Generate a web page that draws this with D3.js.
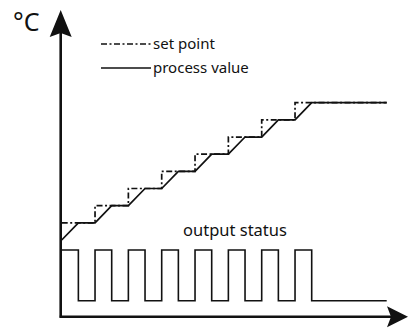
<script src="https://d3js.org/d3.v7.min.js"></script>
<style>
  body { margin: 0; background: #fff; }
  text { font-family: "Noto Sans", sans-serif; fill: #111; }
</style>
<div id="chart"></div>
<script>
    // time in half-periods, temperature in arbitrary °C
    let setTimes = [0, 2, 4, 6, 8, 10, 12, 14, 19.5];
    let setValues = [30, 40, 50, 60, 70, 80, 90, 100, 100];

    let pvTimes = [0, 1, 2, 3, 4, 5, 6, 7, 8, 9, 10, 11, 12, 13, 14, 15, 19.5];
    let pvValues = [20, 30, 30, 40, 40, 50, 50, 60, 60, 70, 70, 80, 80, 90, 90, 100, 100];

    let outTimes = [0, 1, 2, 3, 4, 5, 6, 7, 8, 9, 10, 11, 12, 13, 14, 15, 19.5];
    let outValues = [1, 0, 1, 0, 1, 0, 1, 0, 1, 0, 1, 0, 1, 0, 1, 0, 0];

    let legendLabels = ["set point", "process value"];

    let width = 409, height = 329;
    let origin = {x: 60.7, y: 316.7};

    var svg = d3.select("#chart")
        .append("svg")
            .attr("width", width)
            .attr("height", height);

    var xScale = d3.scaleLinear().domain([0, 19.5]).range([61.7, 386.7]),
    yScale = d3.scaleLinear().domain([20, 100]).range([240, 102.7]),
    outScale = d3.scaleLinear().domain([0, 1]).range([300.7, 250]);

    // axes with arrowheads
    svg.append("line")
        .attr("x1", origin.x).attr("y1", origin.y + 1)
        .attr("x2", origin.x).attr("y2", 30)
        .attr("stroke", "#111").attr("stroke-width", 2.6);
    svg.append("line")
        .attr("x1", origin.x - 1).attr("y1", origin.y)
        .attr("x2", 392).attr("y2", origin.y)
        .attr("stroke", "#111").attr("stroke-width", 2.6);

    svg.append("path")
        .attr("d", "M" + origin.x + ",10 L" + (origin.x - 11) + ",37 L" + origin.x + ",33 L" + (origin.x + 11) + ",37 Z")
        .attr("fill", "#111");
    svg.append("path")
        .attr("d", "M408," + origin.y + " L387," + (origin.y - 10.5) + " L391," + origin.y + " L387," + (origin.y + 10.5) + " Z")
        .attr("fill", "#111");

    svg.append("text")
        .attr("x", 13)
        .attr("y", 31)
        .style("font-size", "25px")
        .text("°C");

    // process value
    let pvLine = d3.line()
        .x(function(d) { return xScale(d[0]); })
        .y(function(d) { return yScale(d[1]); });
    svg.append("path")
        .datum(d3.zip(pvTimes, pvValues))
        .attr("d", pvLine)
        .attr("fill", "none")
        .attr("stroke", "#111")
        .attr("stroke-width", 1.7);

    // set point, stepped
    let spLine = d3.line()
        .x(function(d) { return xScale(d[0]); })
        .y(function(d) { return yScale(d[1]); })
        .curve(d3.curveStepAfter);
    svg.append("path")
        .datum(d3.zip(setTimes, setValues))
        .attr("d", spLine)
        .attr("fill", "none")
        .attr("stroke", "#111")
        .attr("stroke-width", 1.7)
        .attr("stroke-dasharray", "6,2.5,2,2.5");

    // output status square wave
    let outLine = d3.line()
        .x(function(d) { return xScale(d[0]); })
        .y(function(d) { return outScale(d[1]); })
        .curve(d3.curveStepAfter);
    svg.append("path")
        .datum(d3.zip(outTimes, outValues))
        .attr("d", outLine)
        .attr("fill", "none")
        .attr("stroke", "#111")
        .attr("stroke-width", 1.6);

    svg.append("text")
        .attr("x", 183)
        .attr("y", 236)
        .style("font-size", "16.5px")
        .text("output status");

    // legend
    let legend = svg.selectAll(".legend")
        .data(legendLabels)
        .enter()
        .append("g")
        .attr("transform", function(d, i) { return "translate(101," + (44 + i * 24) + ")"; });
    legend.append("line")
        .attr("x1", 0).attr("x2", 50)
        .attr("stroke", "#111")
        .attr("stroke-width", 1.7)
        .attr("stroke-dasharray", function(d, i) { return i == 0 ? "6,2.5,2,2.5" : null; });
    legend.append("text")
        .attr("x", 52)
        .attr("y", 5)
        .style("font-size", "15px")
        .text(function(d) { return d; });
</script>
